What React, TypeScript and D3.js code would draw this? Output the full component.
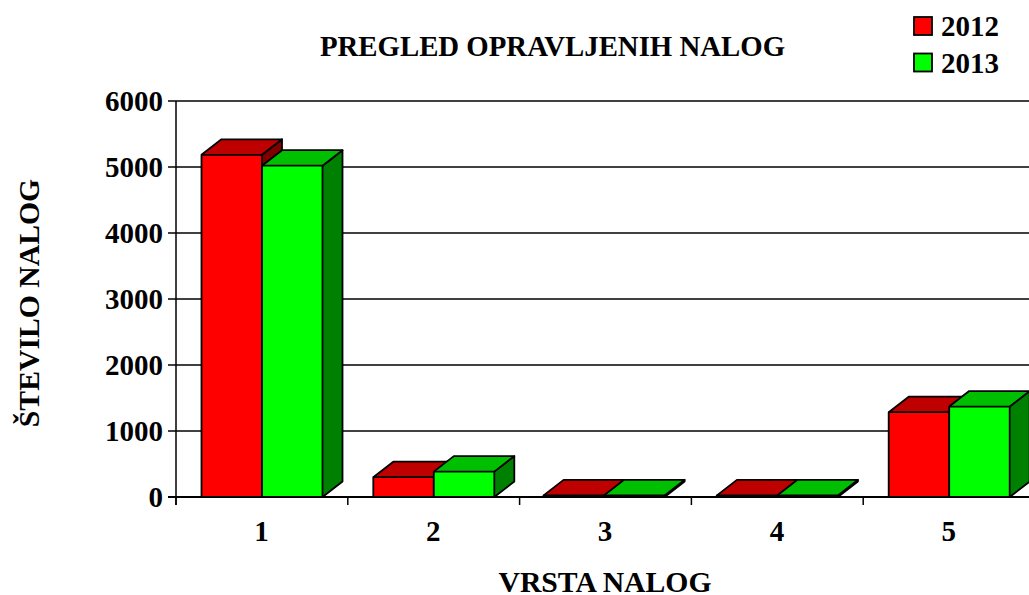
import React from "react";
import * as d3 from "d3";

const categories = ["1", "2", "3", "4", "5"];
const seriesNames = ["2012", "2013"];
const values2012 = [5185, 300, 25, 25, 1285];
const values2013 = [5020, 385, 25, 25, 1370];
const yTicks = [0, 1000, 2000, 3000, 4000, 5000, 6000];
const front = ["#ff0000", "#00ff00"];
const top = ["#bf0000", "#00bf00"];
const side = ["#800000", "#008000"];

const W = 1029, H = 595;
const FONT = "'Liberation Serif', 'Times New Roman', serif";

export default function App() {
  const x = d3.scaleBand<string>().domain(categories).range([176, 1035]);
  const y = d3.scaleLinear().domain([0, 6000]).range([497, 101]);
  const barW = 60.5;
  const pad = 25.5;
  const dx = 20, dy = 15.5;
  const series = [values2012, values2013];
  const path = d3.line();
  return (
    <svg width={W} height={H} style={{ position: "absolute", left: 0, top: 0, background: "#fff" }} fontFamily={FONT} fontWeight="bold" fill="#000">
      <text x={552.5} y={56} fontSize={28.8} textAnchor="middle">PREGLED OPRAVLJENIH NALOG</text>
      <text x={605} y={591.5} fontSize={29.7} textAnchor="middle">VRSTA NALOG</text>
      <text transform="translate(38.5,303) rotate(-90)" fontSize={29.7} textAnchor="middle">ŠTEVILO NALOG</text>

      {yTicks.map((t) => (
        <g key={t}>
          <line x1={168} x2={W} y1={y(t)} y2={y(t)} stroke="#000" strokeWidth={t === 0 ? 2 : 1.5} />
          <text x={163} y={y(t) + 10} fontSize={29} textAnchor="end">{t}</text>
        </g>
      ))}
      <line x1={176} x2={176} y1={101} y2={505} stroke="#000" strokeWidth={1.5} />
      {[...categories.map((c) => x(c)!), 1035].map((p, i) => (
        <line key={i} x1={p} x2={p} y1={497} y2={505} stroke="#000" strokeWidth={1.5} />
      ))}
      {categories.map((c) => (
        <text key={c} x={x(c)! + pad + barW - 0.5} y={540.5} fontSize={29} textAnchor="middle">{c}</text>
      ))}

      {categories.map((c, ci) =>
        series.map((vals, si) => {
          const x0 = x(c)! + pad + si * barW - (ci === 2 ? 1.5 : 0);
          const x1 = x0 + barW;
          const yt = y(vals[ci]);
          const yb = y(0);
          const common = { stroke: "#000", strokeWidth: 1.8, strokeLinejoin: "round" as const };
          return (
            <g key={c + si}>
              <path d={path([[x1, yt], [x1 + dx, yt - dy], [x1 + dx, yb - dy], [x1, yb]])!} fill={side[si]} {...common} />
              <path d={path([[x0, yt], [x0 + dx, yt - dy], [x1 + dx, yt - dy], [x1, yt]])!} fill={top[si]} {...common} />
              <rect x={x0} y={yt} width={barW} height={yb - yt} fill={front[si]} {...common} />
            </g>
          );
        })
      )}

      {seriesNames.map((s, i) => (
        <g key={s}>
          <rect x={914} y={17 + i * 36.5} width={18} height={18} fill={front[i]} stroke="#000" strokeWidth={1.8} />
          <text x={941} y={36 + i * 36.5} fontSize={29}>{s}</text>
        </g>
      ))}
    </svg>
  );
}
